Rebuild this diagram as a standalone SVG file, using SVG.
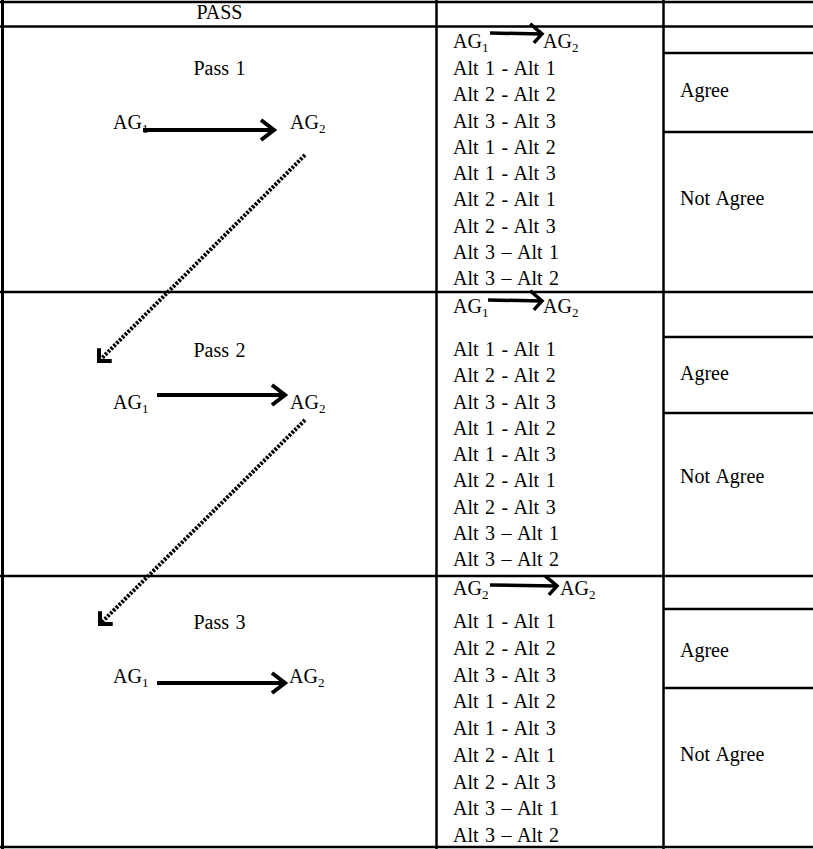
<svg xmlns="http://www.w3.org/2000/svg" width="813" height="849" viewBox="0 0 813 849">
  <style>
    .t { font-family: "Liberation Serif", "Times New Roman", serif; font-size: 20px; fill: #000; }
    .c { text-anchor: middle; }
    .w { word-spacing: 1.5px; }
    .sub { font-size: 13px; }
    .grid { stroke: #000; stroke-width: 2.5; fill: none; }
    .edge { stroke: #000; stroke-width: 3; fill: none; }
    .solid { stroke: #000; stroke-width: 4; fill: none; marker-end: url(#head); }
    .small { stroke: #000; stroke-width: 3.5; fill: none; marker-end: url(#headSmall); }
    .dotted { stroke: #000; stroke-width: 4; fill: none; stroke-dasharray: 2.5 1.5; marker-end: url(#headDot); }
  </style>
  <defs>
    <marker id="head" markerUnits="userSpaceOnUse" markerWidth="30" markerHeight="30" viewBox="-16 -15 20 30" refX="0" refY="0" orient="auto" overflow="visible">
      <path d="M -13,-10 L 0,0 L -13,10" fill="none" stroke="#000" stroke-width="4"/>
    </marker>
    <marker id="headSmall" markerUnits="userSpaceOnUse" markerWidth="30" markerHeight="30" viewBox="-16 -15 20 30" refX="0" refY="0" orient="auto" overflow="visible">
      <path d="M -12,-10 L 0,0 L -8,9" fill="none" stroke="#000" stroke-width="3.5"/>
    </marker>
    <marker id="headDot" markerUnits="userSpaceOnUse" markerWidth="30" markerHeight="30" viewBox="-16 -15 20 30" refX="0" refY="0" orient="auto" overflow="visible">
      <path d="M -9,-9 L 0,0 L -9,9" fill="none" stroke="#000" stroke-width="4"/>
    </marker>
  </defs>

  <!-- table rules -->
  <g id="table">
    <line class="grid" x1="0" y1="2" x2="813" y2="2"/>
    <line class="edge" x1="2.5" y1="0" x2="2.5" y2="849"/>
    <line class="grid" x1="0" y1="847" x2="813" y2="847"/>
    <line class="grid" x1="436.5" y1="0" x2="436.5" y2="849"/>
    <line class="grid" x1="663.5" y1="0" x2="663.5" y2="849"/>
    <line class="grid" x1="0" y1="26.5" x2="813" y2="26.5"/>
    <line class="grid" x1="0" y1="292" x2="813" y2="292"/>
    <line class="grid" x1="0" y1="576" x2="813" y2="576"/>
    <line class="grid" x1="663" y1="53" x2="813" y2="53"/>
    <line class="grid" x1="663" y1="132" x2="813" y2="132"/>
    <line class="grid" x1="663" y1="337" x2="813" y2="337"/>
    <line class="grid" x1="663" y1="413" x2="813" y2="413"/>
    <line class="grid" x1="663" y1="609" x2="813" y2="609"/>
    <line class="grid" x1="663" y1="688" x2="813" y2="688"/>
  </g>

  <g id="header">
    <text class="t c" x="219.5" y="19">PASS</text>
  </g>

  <!-- Pass 1 -->
  <g id="pass1">
    <text class="t c w" x="219.5" y="75">Pass 1</text>
    <text class="t" x="113" y="129">AG<tspan class="sub" dy="4">1</tspan></text>
    <text class="t" x="290" y="129">AG<tspan class="sub" dy="4">2</tspan></text>
  </g>
  <g id="pairs1" class="w">
    <text class="t" x="453" y="48">AG<tspan class="sub" dy="4">1</tspan></text>
    <text class="t" x="543" y="48">AG<tspan class="sub" dy="4">2</tspan></text>
    <text class="t" x="453" y="75">Alt 1 - Alt 1</text>
    <text class="t" x="453" y="101.25">Alt 2 - Alt 2</text>
    <text class="t" x="453" y="127.5">Alt 3 - Alt 3</text>
    <text class="t" x="453" y="153.75">Alt 1 - Alt 2</text>
    <text class="t" x="453" y="180">Alt 1 - Alt 3</text>
    <text class="t" x="453" y="206.25">Alt 2 - Alt 1</text>
    <text class="t" x="453" y="232.5">Alt 2 - Alt 3</text>
    <text class="t" x="453" y="258.75">Alt 3 – Alt 1</text>
    <text class="t" x="453" y="285">Alt 3 – Alt 2</text>
  </g>
  <g id="result1" class="w">
    <text class="t" x="680" y="97">Agree</text>
    <text class="t" x="680" y="205">Not Agree</text>
  </g>

  <!-- Pass 2 -->
  <g id="pass2">
    <text class="t c w" x="219.5" y="357">Pass 2</text>
    <text class="t" x="113" y="409">AG<tspan class="sub" dy="4">1</tspan></text>
    <text class="t" x="290" y="409">AG<tspan class="sub" dy="4">2</tspan></text>
  </g>
  <g id="pairs2" class="w">
    <text class="t" x="453" y="313">AG<tspan class="sub" dy="4">1</tspan></text>
    <text class="t" x="543" y="313">AG<tspan class="sub" dy="4">2</tspan></text>
    <text class="t" x="453" y="356">Alt 1 - Alt 1</text>
    <text class="t" x="453" y="382.25">Alt 2 - Alt 2</text>
    <text class="t" x="453" y="408.5">Alt 3 - Alt 3</text>
    <text class="t" x="453" y="434.75">Alt 1 - Alt 2</text>
    <text class="t" x="453" y="461">Alt 1 - Alt 3</text>
    <text class="t" x="453" y="487.25">Alt 2 - Alt 1</text>
    <text class="t" x="453" y="513.5">Alt 2 - Alt 3</text>
    <text class="t" x="453" y="539.75">Alt 3 – Alt 1</text>
    <text class="t" x="453" y="566">Alt 3 – Alt 2</text>
  </g>
  <g id="result2" class="w">
    <text class="t" x="680" y="380">Agree</text>
    <text class="t" x="680" y="483">Not Agree</text>
  </g>

  <!-- Pass 3 -->
  <g id="pass3">
    <text class="t c w" x="219.5" y="629">Pass 3</text>
    <text class="t" x="113" y="683">AG<tspan class="sub" dy="4">1</tspan></text>
    <text class="t" x="289" y="683">AG<tspan class="sub" dy="4">2</tspan></text>
  </g>
  <g id="pairs3" class="w">
    <text class="t" x="453" y="595">AG<tspan class="sub" dy="4">2</tspan></text>
    <text class="t" x="560" y="595">AG<tspan class="sub" dy="4">2</tspan></text>
    <text class="t" x="453" y="628">Alt 1 - Alt 1</text>
    <text class="t" x="453" y="654.75">Alt 2 - Alt 2</text>
    <text class="t" x="453" y="681.5">Alt 3 - Alt 3</text>
    <text class="t" x="453" y="708.25">Alt 1 - Alt 2</text>
    <text class="t" x="453" y="735">Alt 1 - Alt 3</text>
    <text class="t" x="453" y="761.75">Alt 2 - Alt 1</text>
    <text class="t" x="453" y="788.5">Alt 2 - Alt 3</text>
    <text class="t" x="453" y="815.25">Alt 3 – Alt 1</text>
    <text class="t" x="453" y="842">Alt 3 – Alt 2</text>
  </g>
  <g id="result3" class="w">
    <text class="t" x="680" y="657">Agree</text>
    <text class="t" x="680" y="761">Not Agree</text>
  </g>

  <!-- connectors -->
  <g id="connectors">
    <line class="solid" x1="143" y1="130" x2="274" y2="130"/>
    <line class="solid" x1="157" y1="395" x2="285" y2="395"/>
    <line class="solid" x1="157" y1="683" x2="285" y2="683"/>
    <line class="small" x1="490" y1="33" x2="542" y2="34"/>
    <line class="small" x1="488" y1="300" x2="542" y2="301"/>
    <line class="small" x1="490" y1="585" x2="557" y2="586"/>
    <line class="dotted" x1="305" y1="155" x2="99" y2="361"/>
    <line class="dotted" x1="305" y1="420" x2="100" y2="624"/>
  </g>
</svg>
